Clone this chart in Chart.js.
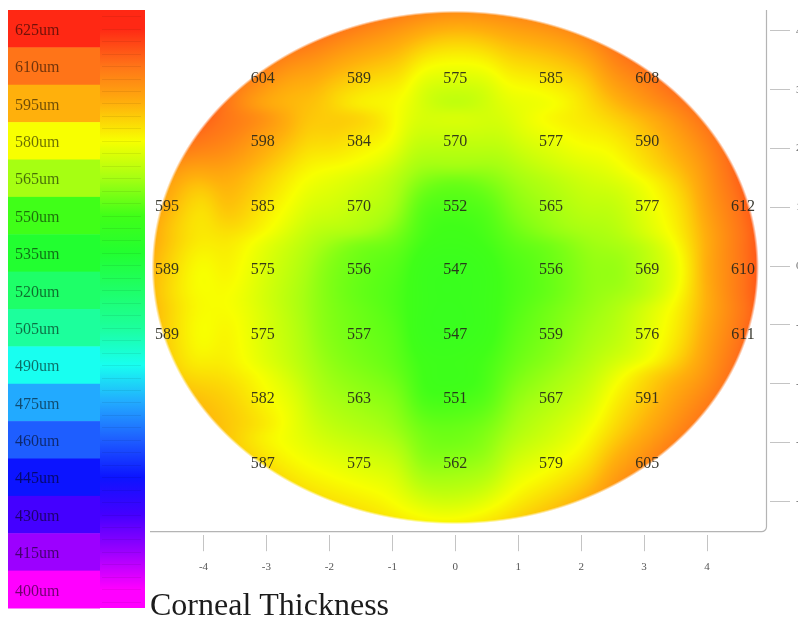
<!DOCTYPE html>
<html>
<head>
<meta charset="utf-8">
<script src="https://cdn.jsdelivr.net/npm/chart.js@4/dist/chart.umd.min.js"></script>
<style>
  html, body { margin: 0; padding: 0; background: #fff; overflow: hidden; }
  #wrap { width: 798px; height: 621px; position: relative; }
</style>
</head>
<body>
<div id="wrap"><canvas id="map" width="798" height="621"></canvas></div>
<script>
// Measurement grid: column / row positions (mm from apex)
const colX = [-4.58, -3.06, -1.53, 0, 1.52, 3.05, 4.57];
const rowY = [3.18, 2.109, 1.003, -0.068, -1.173, -2.262, -3.367];

// Thickness readings (µm), one array per grid row, top to bottom; null = no reading
const row1 = [null, 604, 589, 575, 585, 608, null];
const row2 = [null, 598, 584, 570, 577, 590, null];
const row3 = [595, 585, 570, 552, 565, 577, 612];
const row4 = [589, 575, 556, 547, 556, 569, 610];
const row5 = [589, 575, 557, 547, 559, 576, 611];
const row6 = [null, 582, 563, 551, 567, 591, null];
const row7 = [null, 587, 575, 562, 579, 605, null];
const thicknessRows = [row1, row2, row3, row4, row5, row6, row7];

// Colour scale levels (µm) and their colours, top to bottom
const scaleLevels = [625, 610, 595, 580, 565, 550, 535, 520, 505, 490, 475, 460, 445, 430, 415, 400];
const scaleColors = ['#ff2814', '#ff7418', '#ffb00c', '#f8ff00', '#a6ff12', '#40ff18', '#22ff30', '#1eff68',
                     '#1cff9c', '#18fff0', '#22aaff', '#1e5eff', '#0c14ff', '#4400ff', '#9c00ff', '#ff00ff'];

// Axis ticks (mm)
const xTickValues = [-4, -3, -2, -1, 0, 1, 2, 3, 4];
const yTickValues = [-4, -3, -2, -1, 0, 1, 2, 3, 4];

// Measured zone outline (centre offset and semi-axes in mm)
const zone = { cy: -0.025, rx: 4.80, ry: 4.345 };

const points = [];
thicknessRows.forEach((row, r) => row.forEach((v, c) => {
  if (v !== null) points.push({ x: colX[c], y: rowY[r], v: v });
}));

function hexRgb(h) {
  return [parseInt(h.slice(1, 3), 16), parseInt(h.slice(3, 5), 16), parseInt(h.slice(5, 7), 16)];
}
const scaleRgb = scaleColors.map(hexRgb);

function colorFor(v) {
  if (v >= scaleLevels[0]) return scaleRgb[0];
  const last = scaleLevels.length - 1;
  if (v <= scaleLevels[last]) return scaleRgb[last];
  for (let i = 0; i < last; i++) {
    if (v <= scaleLevels[i] && v >= scaleLevels[i + 1]) {
      const t = (scaleLevels[i] - v) / (scaleLevels[i] - scaleLevels[i + 1]);
      const a = scaleRgb[i], b = scaleRgb[i + 1];
      return [a[0] + (b[0] - a[0]) * t, a[1] + (b[1] - a[1]) * t, a[2] + (b[2] - a[2]) * t];
    }
  }
  return scaleRgb[last];
}

// Least-squares solve for a quadratic surface through the readings
function solve(A, b) {
  const n = b.length;
  for (let i = 0; i < n; i++) {
    let p = i;
    for (let k = i + 1; k < n; k++) if (Math.abs(A[k][i]) > Math.abs(A[p][i])) p = k;
    [A[i], A[p]] = [A[p], A[i]]; [b[i], b[p]] = [b[p], b[i]];
    for (let k = i + 1; k < n; k++) {
      const f = A[k][i] / A[i][i];
      for (let j = i; j < n; j++) A[k][j] -= f * A[i][j];
      b[k] -= f * b[i];
    }
  }
  const x = new Array(n).fill(0);
  for (let i = n - 1; i >= 0; i--) {
    let s = b[i];
    for (let j = i + 1; j < n; j++) s -= A[i][j] * x[j];
    x[i] = s / A[i][i];
  }
  return x;
}
const basis = (x, y) => [1, x, y, x * x, x * y, y * y];
function fitTrend(pts) {
  const A = Array.from({ length: 6 }, () => new Array(6).fill(0));
  const b = new Array(6).fill(0);
  pts.forEach(p => {
    const f = basis(p.x, p.y);
    for (let i = 0; i < 6; i++) {
      b[i] += f[i] * p.v;
      for (let j = 0; j < 6; j++) A[i][j] += f[i] * f[j];
    }
  });
  return solve(A, b);
}
const trendCoef = fitTrend(points);
const trend = (x, y) => basis(x, y).reduce((s, f, i) => s + f * trendCoef[i], 0);
const residuals = points.map(p => p.v - trend(p.x, p.y));

// Surface value: quadratic trend plus inverse-distance-weighted residuals
function fieldAt(x, y) {
  let sw = 0.6, sr = 0;
  for (let i = 0; i < points.length; i++) {
    const dx = x - points[i].x, dy = y - points[i].y;
    const d2 = dx * dx + dy * dy + 0.015;
    const w = 1 / (d2 * d2);
    sw += w; sr += w * residuals[i];
  }
  return trend(x, y) + sr / sw;
}

// Paints the interpolated thickness field inside the measured zone
const fieldPlugin = {
  id: 'thicknessField',
  beforeDatasetsDraw(chart) {
    const xs = chart.scales.x, ys = chart.scales.y;
    const px0 = Math.floor(xs.getPixelForValue(-zone.rx)) - 2;
    const px1 = Math.ceil(xs.getPixelForValue(zone.rx)) + 2;
    const py0 = Math.floor(ys.getPixelForValue(zone.cy + zone.ry)) - 2;
    const py1 = Math.ceil(ys.getPixelForValue(zone.cy - zone.ry)) + 2;
    const w = px1 - px0, h = py1 - py0;
    const off = document.createElement('canvas');
    off.width = w; off.height = h;
    const octx = off.getContext('2d');
    const img = octx.createImageData(w, h);
    const xv = [], yv = [];
    for (let i = 0; i < w; i++) xv.push(xs.getValueForPixel(px0 + i + 0.5));
    for (let j = 0; j < h; j++) yv.push(ys.getValueForPixel(py0 + j + 0.5));
    const edgePx = (xs.getPixelForValue(zone.rx) - xs.getPixelForValue(0));
    for (let j = 0; j < h; j++) {
      for (let i = 0; i < w; i++) {
        const x = xv[i], y = yv[j];
        const rho = Math.sqrt((x / zone.rx) ** 2 + ((y - zone.cy) / zone.ry) ** 2);
        let a = (1 - rho) * edgePx / 3 + 0.5;
        if (a <= 0) continue;
        if (a > 1) a = 1;
        const c = colorFor(fieldAt(x, y));
        const k = (j * w + i) * 4;
        img.data[k] = c[0]; img.data[k + 1] = c[1]; img.data[k + 2] = c[2];
        img.data[k + 3] = Math.round(a * 255);
      }
    }
    octx.putImageData(img, 0, 0);
    chart.ctx.drawImage(off, px0, py0);
  },
  afterDatasetsDraw(chart) {
    const ctx = chart.ctx;
    const meta = chart.getDatasetMeta(0);
    ctx.save();
    ctx.font = '16px "Liberation Serif", "Times New Roman", serif';
    ctx.fillStyle = 'rgba(38, 38, 28, 0.9)';
    ctx.textAlign = 'center';
    ctx.textBaseline = 'middle';
    meta.data.forEach((el, i) => {
      ctx.fillText(String(chart.data.datasets[0].data[i].v), el.x, el.y);
    });
    ctx.restore();
  }
};

// Rounded frame along the bottom and right axes
const framePlugin = {
  id: 'frame',
  afterDraw(chart) {
    const { left, top, right, bottom } = chart.chartArea;
    const ctx = chart.ctx;
    const fx = right - 3.5, fy = bottom - 3.5, r = 5;
    ctx.save();
    ctx.strokeStyle = '#b4b4b4';
    ctx.lineWidth = 1.2;
    ctx.beginPath();
    ctx.moveTo(left, fy);
    ctx.lineTo(fx - r, fy);
    ctx.arcTo(fx, fy, fx, fy - r, r);
    ctx.lineTo(fx, top + 2);
    ctx.stroke();
    ctx.restore();
  }
};

// Colour scale bar on the left
const scalePlugin = {
  id: 'colorScale',
  afterDraw(chart) {
    const ctx = chart.ctx;
    const x0 = 8, x1 = 145, split = 100, y0 = 10, y1 = 608;
    const n = scaleLevels.length;
    const bh = (y1 - y0) / n;
    ctx.save();
    const grad = ctx.createLinearGradient(0, y0, 0, y1);
    scaleColors.forEach((c, i) => grad.addColorStop((i + 0.5) / n, c));
    grad.addColorStop(0, scaleColors[0]);
    grad.addColorStop(1, scaleColors[n - 1]);
    ctx.fillStyle = grad;
    ctx.fillRect(split, y0, x1 - split, y1 - y0);
    for (let i = 0; i < n; i++) {
      ctx.fillStyle = scaleColors[i];
      ctx.fillRect(x0, y0 + i * bh, split - x0, bh + 0.5);
    }
    ctx.strokeStyle = 'rgba(0,0,0,0.07)';
    ctx.lineWidth = 1;
    for (let i = 0; i < n * 3; i++) {
      const y = Math.round(y0 + (i + 0.5) * bh / 3) + 0.5;
      ctx.beginPath(); ctx.moveTo(split + 2, y); ctx.lineTo(x1 - 4, y); ctx.stroke();
    }
    ctx.font = '16px "Liberation Serif", "Times New Roman", serif';
    ctx.fillStyle = 'rgba(0,0,0,0.56)';
    ctx.textAlign = 'left';
    ctx.textBaseline = 'middle';
    scaleLevels.forEach((lv, i) => {
      ctx.fillText(lv + 'um', 15, y0 + (i + 0.5) * bh + 2);
    });
    ctx.restore();
  }
};

new Chart(document.getElementById('map'), {
  type: 'scatter',
  data: {
    datasets: [{
      data: points,
      pointRadius: 0,
      pointHoverRadius: 0,
      showLine: false
    }]
  },
  options: {
    responsive: false,
    animation: false,
    devicePixelRatio: 1,
    layout: { padding: { left: 150, top: 8, right: 0, bottom: 0 } },
    plugins: {
      legend: { display: false },
      tooltip: { enabled: false },
      title: {
        display: true,
        position: 'bottom',
        align: 'start',
        text: 'Corneal Thickness',
        color: '#1c1c1c',
        font: { family: '"Liberation Serif", "Times New Roman", serif', size: 32, weight: 'normal', lineHeight: 0.9 },
        padding: { top: 0, bottom: 0 }
      }
    },
    scales: {
      x: {
        type: 'linear',
        min: -4.85,
        max: 5.0,
        afterBuildTicks: s => { s.ticks = xTickValues.map(v => ({ value: v })); },
        afterFit: s => { s.height = 57; s.paddingLeft = 0; s.paddingRight = 0; },
        grid: { drawOnChartArea: false, drawTicks: true, tickLength: 16, color: '#c4c4c4', lineWidth: 1 },
        border: { display: false },
        ticks: {
          padding: 9,
          color: '#555',
          font: { family: '"Liberation Serif", "Times New Roman", serif', size: 11 }
        }
      },
      y: {
        type: 'linear',
        position: 'right',
        min: -4.578,
        max: 4.388,
        afterBuildTicks: s => { s.ticks = yTickValues.map(v => ({ value: v })); },
        afterFit: s => { s.width = 28; s.paddingTop = 0; s.paddingBottom = 0; },
        grid: { drawOnChartArea: false, drawTicks: true, tickLength: 20, color: '#c4c4c4', lineWidth: 1 },
        border: { display: false },
        ticks: {
          padding: 6,
          color: '#666',
          font: { family: '"Liberation Serif", "Times New Roman", serif', size: 11 }
        }
      }
    }
  },
  plugins: [fieldPlugin, framePlugin, scalePlugin]
});
</script>
</body>
</html>
